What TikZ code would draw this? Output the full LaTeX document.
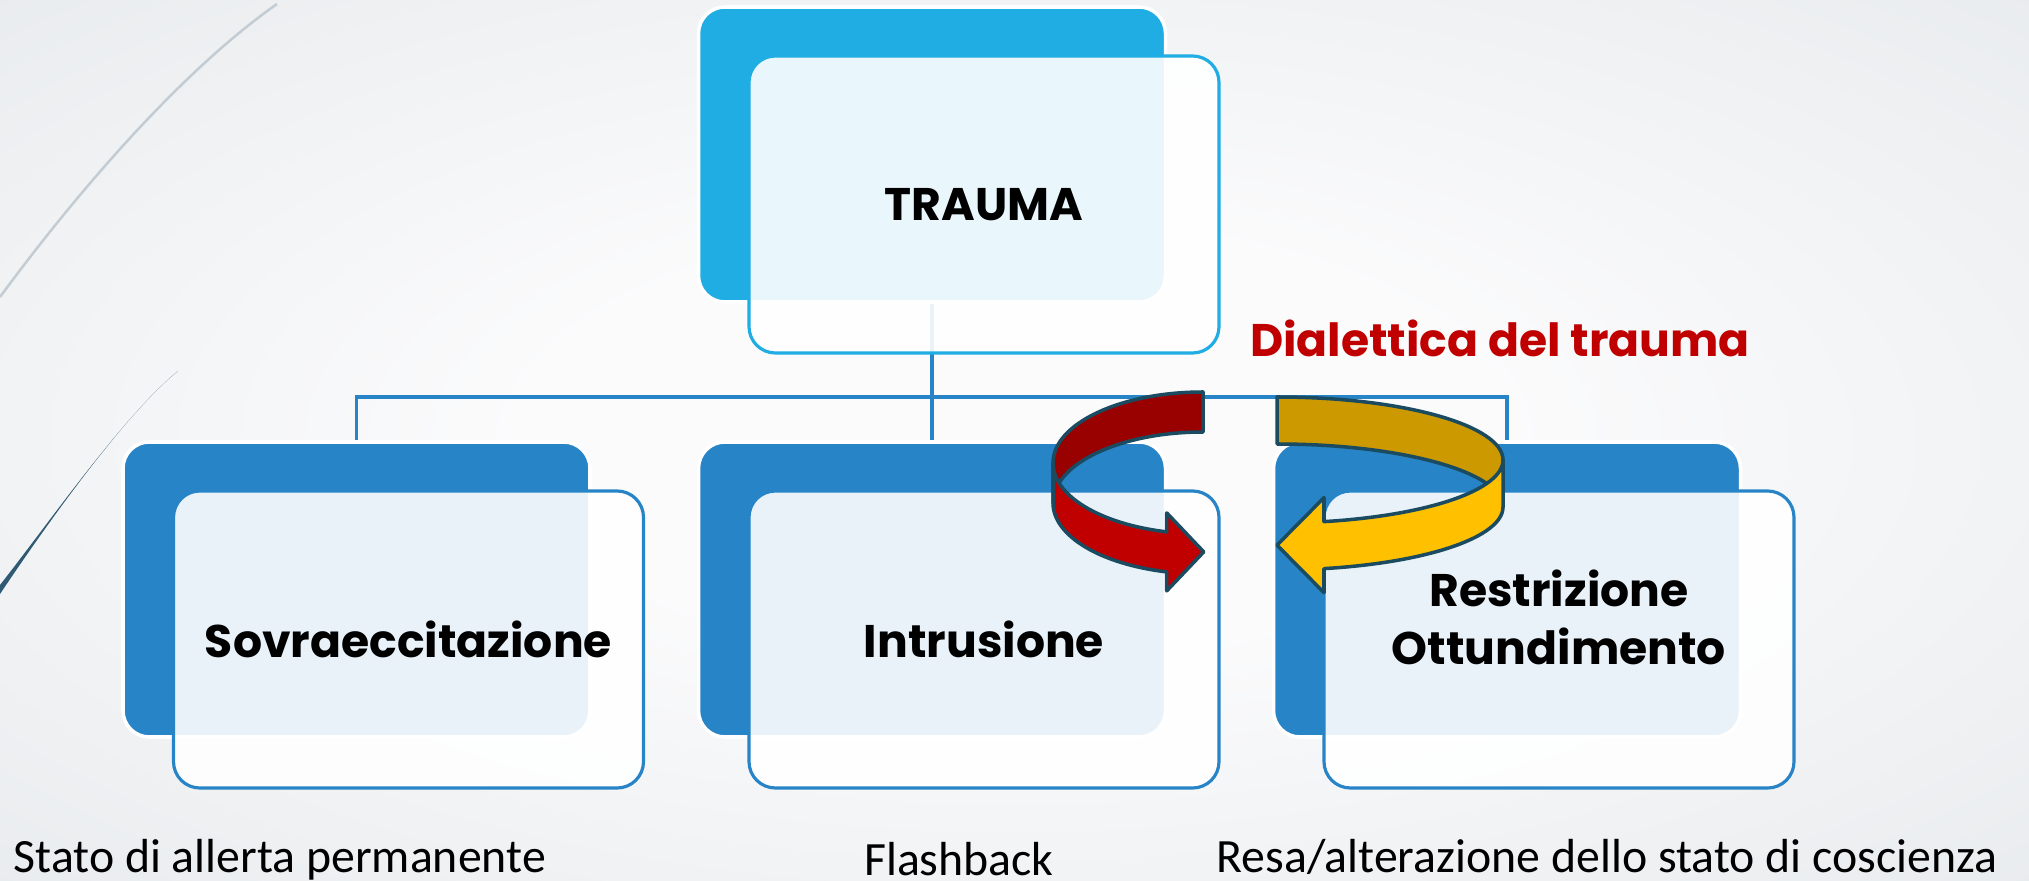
\documentclass[tikz,border=0pt]{standalone}
\usepackage{fontspec}
\setmainfont{Carlito}
\newfontfamily\gothic{Poppins}
\usepackage{tikz}
\usetikzlibrary{positioning}
\definecolor{SkyBlue}{HTML}{1FADE3}
\definecolor{MidBlue}{HTML}{2784C7}
\definecolor{DarkRed}{HTML}{990000}
\definecolor{BrightRed}{HTML}{C00000}
\definecolor{DarkGold}{HTML}{CC9900}
\definecolor{Gold}{HTML}{FFC000}
\definecolor{Outline}{HTML}{1B4B60}
\definecolor{BgEdge}{HTML}{E2E6E9}
\definecolor{BgMid}{HTML}{FBFBFC}
\definecolor{SwirlLight}{HTML}{C2CCD2}
\definecolor{SwirlDark}{HTML}{2F5A73}
\pgfdeclareradialshading{bgglow}{\pgfpoint{0bp}{0bp}}{%
  color(0bp)=(BgMid); color(12bp)=(BgMid); color(45bp)=(BgEdge); color(50bp)=(BgEdge)}
\tikzset{
  backbox/.style={
    rectangle, rounded corners=7.5pt,
    minimum width=4.67cm, minimum height=2.95cm,
    fill=#1, draw=white, line width=1pt
  },
  frontbox/.style={
    rectangle, rounded corners=7.5pt,
    minimum width=4.70cm, minimum height=2.97cm,
    fill=white, fill opacity=0.9, draw=#1, line width=0.9pt
  },
  lbl/.style={font=\gothic\bfseries\fontsize{13}{16.5}\selectfont, align=center},
  belowtxt/.style={font=\fontsize{13.6}{16}\selectfont, inner sep=0pt},
  conn/.style={draw=MidBlue, line width=0.9pt},
  ribbon/.style={draw=Outline, line width=1pt, line join=round, fill=#1},
}
\begin{document}
\begin{tikzpicture}

\shade[shading=bgglow] (0,0) rectangle (20.29,-8.81);
\useasboundingbox (0,0) rectangle (20.29,-8.81);

\draw[SwirlLight, line width=0.7pt] (2.77,-0.04) .. controls (1.80,-0.72) and (0.75,-1.95) .. (0,-2.97);
\fill[SwirlDark] (1.78,-3.71) .. controls (1.23,-4.16) and (0.45,-5.27) .. (0,-5.94)
  -- (0,-5.85) .. controls (0.48,-5.24) and (1.24,-4.15) .. (1.78,-3.71) -- cycle;

\node[backbox=SkyBlue] at (9.32,-1.545) (traumaB) {};
\node[backbox=MidBlue] at (3.565,-5.895) (sovraB) {};
\node[backbox=MidBlue] at (9.32,-5.895) (intruB) {};
\node[backbox=MidBlue] at (15.07,-5.895) (restrB) {};

\coordinate (bus) at (9.32,-3.97);
\draw[conn] (traumaB.south) -- (bus);
\draw[conn] (bus) -| (sovraB.north);
\draw[conn] (bus) -- (intruB.north);
\draw[conn] (bus) -| (restrB.north);

\node[frontbox=SkyBlue] at (9.84,-2.045) (traumaF) {};
\node[frontbox=MidBlue] at (4.085,-6.395) (sovraF) {};
\node[frontbox=MidBlue] at (9.84,-6.395) (intruF) {};
\node[frontbox=MidBlue] at (15.59,-6.395) (restrF) {};

\node[lbl] at (traumaF) (trauma) {TRAUMA};
\node[lbl] at (sovraF) (sovra) {Sovraeccitazione};
\node[lbl] at (intruF) (intru) {Intrusione};
\node[lbl] at ([yshift=0.22cm]restrF.center) (restr) {Restrizione\\Ottundimento};

\node[lbl, text=BrightRed, anchor=base] at (15.0,-3.57) (dial) {Dialettica del trauma};

\node[belowtxt, anchor=base west] at (0.13,-8.72) (stato) {Stato di allerta permanente};
\node[belowtxt, anchor=base] at (9.59,-8.75) (flash) {Flashback};
\node[belowtxt, anchor=base west] at (12.16,-8.72) (resa) {Resa/alterazione dello stato di coscienza};

\draw[ribbon=DarkRed] (12.03,-3.92) arc[start angle=90, end angle=180, x radius=1.5, y radius=0.71]
  -- ++(0,-0.40) arc[start angle=180, end angle=90, x radius=1.5, y radius=0.71] -- cycle;
\draw[ribbon=BrightRed] (10.53,-4.63) arc[start angle=180, end angle=256, x radius=1.5, y radius=0.71]
  -- ++(0,0.19) -- ++(0.37,-0.39) -- ++(-0.37,-0.39) -- ++(0,0.19)
  arc[start angle=256, end angle=180, x radius=1.5, y radius=0.71] -- cycle;

\draw[ribbon=DarkGold] (12.77,-3.97) arc[start angle=90, end angle=0, x radius=2.26, y radius=0.63]
  -- ++(0,-0.47) arc[start angle=0, end angle=90, x radius=2.26, y radius=0.63] -- cycle;
\draw[ribbon=Gold] (15.03,-4.60) arc[start angle=0, end angle=-78, x radius=2.26, y radius=0.63]
  -- ++(0,0.24) -- ++(-0.47,-0.475) -- ++(0.47,-0.475) -- ++(0,0.24)
  arc[start angle=-78, end angle=0, x radius=2.26, y radius=0.63] -- cycle;

\end{tikzpicture}
\end{document}
